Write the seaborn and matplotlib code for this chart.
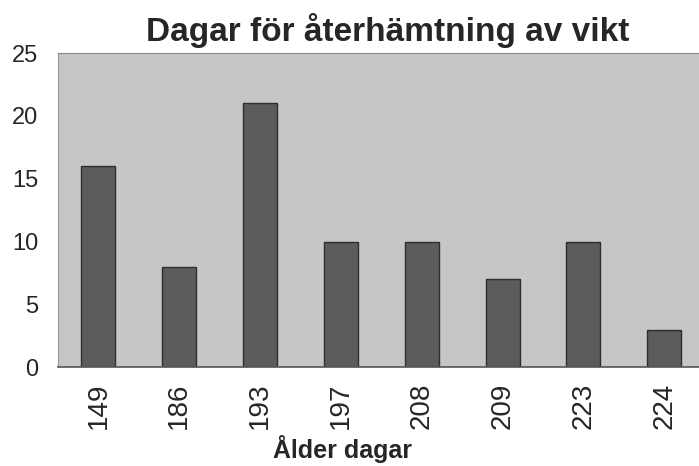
import matplotlib
matplotlib.use("Agg")
import matplotlib.pyplot as plt
import seaborn as sns
import numpy as np

ages = ["149", "186", "193", "197", "208", "209", "223", "224"]
days = [16, 8, 21, 10, 10, 7, 10, 3]

sns.set_style("white")
plt.rcParams['font.family'] = ['Liberation Sans', 'DejaVu Sans']

fig = plt.figure(figsize=(6.99, 4.66), dpi=100)
ax = fig.add_axes([0.083, 0.212, 0.925, 0.674])
ax.set_facecolor("#c6c6c6")

sns.barplot(x=ages, y=days, color="#5c5c5c", width=0.42, saturation=1,
            edgecolor="#2e2e2e", linewidth=1.0, ax=ax)

ax.set_xlim(-0.5, len(ages) - 0.5)
ax.set_ylim(0, 25)
ax.set_yticks(np.arange(0, 26, 5))

# ticks between categories, labels under the bars
ax.set_xticks(np.arange(-0.5, len(ages), 1.0), minor=True)
ax.tick_params(axis="x", which="major", length=0, pad=11, labelsize=20, labelrotation=90)
ax.tick_params(axis="x", which="minor", length=8, width=1.2, color="#666666", direction="inout")
ax.tick_params(axis="y", length=14, width=1.2, color="#888888", direction="inout", labelsize=17, pad=7)

ax.spines["right"].set_visible(False)
ax.spines["top"].set_color("#8a8a8a")
ax.spines["left"].set_color("#999999")
ax.spines["bottom"].set_color("#555555")
ax.spines["bottom"].set_linewidth(1.2)

ax.set_xlabel("Ålder dagar", fontsize=18, fontweight="bold", labelpad=0)
ax.xaxis.set_label_coords(0.44, -0.215)
ax.set_ylabel("")
ax.set_title("Dagar för återhämtning av vikt", fontsize=24, fontweight="bold", pad=9)
ax.title.set_position((0.51, 1.0))

fig.savefig("out.png", dpi=100)
